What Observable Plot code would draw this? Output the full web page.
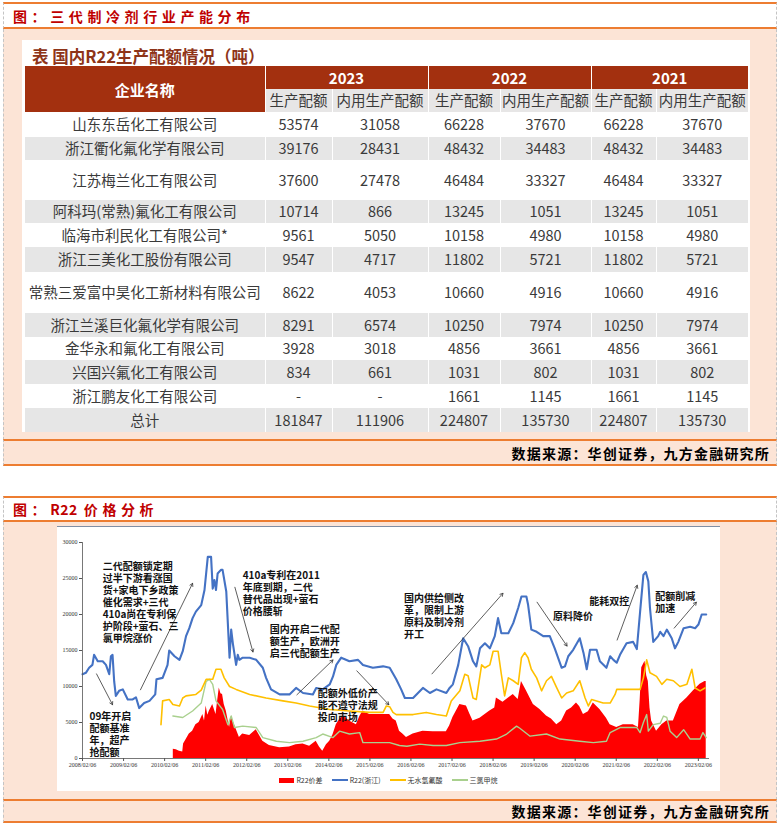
<!DOCTYPE html>
<html><head><meta charset="utf-8">
<script src="https://cdn.jsdelivr.net/npm/d3@7"></script>
<script src="https://cdn.jsdelivr.net/npm/@observablehq/plot@0.6"></script>
<style>
html,body{margin:0;padding:0;background:#fff;}
body{width:780px;height:825px;position:relative;overflow:hidden;font-family:"Noto Sans CJK SC","Noto Sans",sans-serif;}
.abs{position:absolute;box-sizing:border-box;}
.tbar{left:3px;width:774px;background:#fff;border-top:2px solid #ED7D31;border-bottom:2px solid #ED7D31;border-left:1px dashed #c4c4c4;border-right:1px dashed #c4c4c4;
  color:#C00000;font-weight:bold;font-size:14px;letter-spacing:4.6px;padding-left:9px;display:flex;align-items:center;white-space:pre;}
.body{left:3px;width:774px;background:#FCE4D6;border-left:1px dashed #c4c4c4;border-right:1px dashed #c4c4c4;}
.foot{left:3px;width:774px;background:#FCE4D6;border-top:2px solid #ED7D31;border-bottom:2px solid #ED7D31;border-left:1px dashed #c4c4c4;border-right:1px dashed #c4c4c4;
  font-weight:bold;font-size:14px;letter-spacing:1.2px;color:#000;display:flex;align-items:center;justify-content:flex-end;padding-right:6px;}
table{border-collapse:collapse;table-layout:fixed;font-size:14.5px;color:#3a3a3a;}
td{padding:0;text-align:center;vertical-align:middle;white-space:nowrap;overflow:visible;line-height:1;}
td+td{border-left:1px solid #fff;}
.hd td{background:#A3300F;color:#fff;font-weight:bold;font-size:15px;}
.sub td{background:#E7E6E6;color:#3a3a3a;font-size:14.5px;}
.sub td:first-child{border-left:1px solid #fff;}
.legend{display:flex;justify-content:center;align-items:center;gap:9px;font-size:7px;color:#333;font-family:"Noto Sans CJK SC",serif;}
.legend span.item{display:flex;align-items:center;gap:2px;}
</style>
</head><body>
<div class="abs tbar" style="top:2px;height:27px;">图：三代制冷剂行业产能分布</div>
<div class="abs body" style="top:29px;height:411px;"></div>
<div class="abs" style="left:22px;top:40px;width:728px;height:392px;background:#fff;"></div>
<div class="abs" id="ttl" style="left:32px;top:44px;font-size:16.5px;font-weight:bold;color:#8E3418;white-space:nowrap;">表 国内R22生产配额情况（吨）</div>
<div class="abs" id="tbl" style="left:25px;top:66px;"></div>
<div class="abs foot" style="top:439px;height:27px;">数据来源：华创证券，九方金融研究所</div>

<div class="abs tbar" style="top:496px;height:26px;">图：<span style="letter-spacing:0.5px;margin-right:6px;">R22</span>价格分析</div>
<div class="abs body" style="top:522px;height:278px;"></div>
<div class="abs" style="left:57px;top:526px;width:663px;height:265px;background:#fff;border-top:1.5px solid #7F8FA6;">
  <div id="chart" style="height:245px;margin-top:-1px;"></div>
  <div class="legend" id="legend" style="height:18px;"></div>
</div>
<div class="abs foot" style="top:799px;height:24px;">数据来源：华创证券，九方金融研究所</div>

<script>
// ---------------- table data ----------------
const companies = ["山东东岳化工有限公司","浙江衢化氟化学有限公司","江苏梅兰化工有限公司","阿科玛(常熟)氟化工有限公司","临海市利民化工有限公司*","浙江三美化工股份有限公司","常熟三爱富中昊化工新材料有限公司","浙江兰溪巨化氟化学有限公司","金华永和氟化工有限公司","兴国兴氟化工有限公司","浙江鹏友化工有限公司","总计"];
const quota2023    = [53574,39176,37600,10714,9561,9547,8622,8291,3928,834,null,181847];
const domestic2023 = [31058,28431,27478,866,5050,4717,4053,6574,3018,661,null,111906];
const quota2022    = [66228,48432,46484,13245,10158,11802,10660,10250,4856,1031,1661,224807];
const domestic2022 = [37670,34483,33327,1051,4980,5721,4916,7974,3661,802,1145,135730];
const quota2021    = [66228,48432,46484,13245,10158,11802,10660,10250,4856,1031,1661,224807];
const domestic2021 = [37670,34483,33327,1051,4980,5721,4916,7974,3661,802,1145,135730];
const tableYears = ["2023","2022","2021"];
const subHeaders = ["生产配额","内用生产配额"];
const nameHeader = "企业名称";

// ---------------- chart data (decimal year, value) ----------------
const r22Zhejiang = [[2008.10,11700],[2008.18,11900],[2008.26,12600],[2008.34,13000],[2008.38,14400],[2008.47,13500],[2008.59,13500],[2008.67,13000],[2008.75,11700],[2008.79,14200],[2008.83,14400],[2008.87,10700],[2008.91,8700],[2008.99,9400],[2009.08,9600],[2009.20,8200],[2009.32,8200],[2009.40,8500],[2009.48,7000],[2009.60,7700],[2009.73,8000],[2009.87,8900],[2009.90,11000],[2010.05,11200],[2010.17,13000],[2010.21,15000],[2010.34,14200],[2010.46,13700],[2010.54,14900],[2010.62,17000],[2010.70,18100],[2010.78,19500],[2010.86,20400],[2010.99,21300],[2011.07,23400],[2011.15,28000],[2011.23,28000],[2011.27,23600],[2011.31,24800],[2011.35,23400],[2011.39,25700],[2011.47,26200],[2011.51,26200],[2011.60,23200],[2011.64,18600],[2011.68,14000],[2011.72,17900],[2011.76,16000],[2011.84,13000],[2011.88,14400],[2011.92,13700],[2012.00,14000],[2012.17,14000],[2012.33,13700],[2012.49,12600],[2012.57,11200],[2012.69,9600],[2012.90,8900],[2013.14,8900],[2013.30,9800],[2013.47,9100],[2013.71,8900],[2013.79,9800],[2013.95,9600],[2014.12,10300],[2014.20,11400],[2014.28,13000],[2014.40,14000],[2014.60,13500],[2014.81,13700],[2014.93,13000],[2015.17,12600],[2015.42,12800],[2015.58,12600],[2015.74,11000],[2015.86,9600],[2015.95,8400],[2016.15,8400],[2016.39,9800],[2016.56,9100],[2016.72,9600],[2016.96,9100],[2017.04,9800],[2017.12,10300],[2017.25,13000],[2017.37,16700],[2017.49,15600],[2017.61,13500],[2017.69,12800],[2017.78,15300],[2017.90,16000],[2018.02,15300],[2018.14,17000],[2018.22,19500],[2018.30,17400],[2018.47,17400],[2018.59,18800],[2018.71,20900],[2018.79,22500],[2018.91,22500],[2018.95,21400],[2019.03,17900],[2019.16,17600],[2019.32,17000],[2019.48,17000],[2019.60,15300],[2019.77,12600],[2019.85,12800],[2019.93,14200],[2020.05,15100],[2020.21,16700],[2020.30,14700],[2020.38,12400],[2020.46,15100],[2020.62,15100],[2020.70,13500],[2020.86,12600],[2020.95,14200],[2021.03,13700],[2021.11,13300],[2021.19,14400],[2021.35,16000],[2021.51,16200],[2021.60,15200],[2021.68,20400],[2021.76,25500],[2021.82,25900],[2021.88,24600],[2021.92,20900],[2022.00,16200],[2022.12,17000],[2022.17,17600],[2022.25,17000],[2022.33,17900],[2022.45,16700],[2022.53,15300],[2022.61,16200],[2022.74,18100],[2022.90,18300],[2023.02,18100],[2023.10,18600],[2023.18,20000],[2023.29,20000]];

const hydrofluoricAcid = [[2010.01,4700],[2010.05,8000],[2010.21,8200],[2010.30,7500],[2010.46,7300],[2010.54,8400],[2010.62,8700],[2010.86,8900],[2010.99,9500],[2011.11,11000],[2011.27,11000],[2011.35,12400],[2011.47,12400],[2011.55,11200],[2011.68,10000],[2011.84,9600],[2012.17,8900],[2012.57,8400],[2012.98,8000],[2013.30,7700],[2013.63,7300],[2014.12,6800],[2014.60,6600],[2015.09,6400],[2015.42,6400],[2015.50,7300],[2015.58,7200],[2015.66,6400],[2015.74,6100],[2016.15,6100],[2016.47,6400],[2016.72,6100],[2016.96,5900],[2017.08,8000],[2017.29,9400],[2017.41,11700],[2017.49,11500],[2017.61,8400],[2017.69,8200],[2017.82,13000],[2017.90,12600],[2018.02,13000],[2018.10,14900],[2018.22,14900],[2018.30,11700],[2018.38,8700],[2018.47,11200],[2018.59,10800],[2018.71,10300],[2018.79,14000],[2018.87,14700],[2018.95,14000],[2019.03,12400],[2019.16,11200],[2019.28,9400],[2019.40,10800],[2019.52,11400],[2019.65,9800],[2019.77,8400],[2019.89,9100],[2020.05,9400],[2020.21,10800],[2020.34,8400],[2020.42,7300],[2020.50,8200],[2020.62,8000],[2020.78,7700],[2020.95,7700],[2021.07,8900],[2021.11,9600],[2021.35,9600],[2021.68,9600],[2021.76,11200],[2021.84,13700],[2021.92,11900],[2022.08,11400],[2022.21,10300],[2022.33,11000],[2022.49,10800],[2022.65,10000],[2022.82,10300],[2022.94,12400],[2023.02,9800],[2023.14,9400],[2023.26,9800]];

const chloroform = [[2010.30,5900],[2010.54,5700],[2010.78,6600],[2010.99,7700],[2011.11,10700],[2011.19,11000],[2011.27,10300],[2011.35,8000],[2011.51,6800],[2011.64,4700],[2011.72,5900],[2011.80,4300],[2012.00,4500],[2012.33,4300],[2012.49,2900],[2012.82,2400],[2013.14,2200],[2013.47,2400],[2013.79,2900],[2013.95,3400],[2014.20,2900],[2014.36,3800],[2014.60,3400],[2014.85,3600],[2014.93,2200],[2015.25,2200],[2015.58,2200],[2015.82,1800],[2016.00,1700],[2016.31,2000],[2016.64,1800],[2016.96,1800],[2017.29,2200],[2017.78,2400],[2018.18,2700],[2018.43,3400],[2018.67,4500],[2018.75,4200],[2019.00,3100],[2019.40,3400],[2019.73,2700],[2020.21,2400],[2020.54,2200],[2020.86,2400],[2020.95,3600],[2021.19,4300],[2021.60,4300],[2021.68,3600],[2021.76,5000],[2021.84,6100],[2021.88,3800],[2022.00,4700],[2022.17,4900],[2022.25,5900],[2022.33,5700],[2022.41,3800],[2022.57,2900],[2022.74,4000],[2022.90,2700],[2023.14,2700],[2023.21,3600],[2023.29,2900]];

const r22Spread = [[2010.31,1300],[2010.38,1200],[2010.46,1000],[2010.54,900],[2010.56,2000],[2010.62,2600],[2010.70,3400],[2010.78,3800],[2010.86,4700],[2010.94,5000],[2011.03,6100],[2011.07,5200],[2011.11,7300],[2011.15,6000],[2011.19,6600],[2011.27,7500],[2011.35,6100],[2011.39,8000],[2011.43,9800],[2011.47,9000],[2011.51,8900],[2011.55,7500],[2011.60,6600],[2011.68,4300],[2011.72,5800],[2011.80,4700],[2011.88,3500],[2011.92,2900],[2012.00,3400],[2012.17,3200],[2012.33,4000],[2012.41,3200],[2012.49,2400],[2012.65,1800],[2012.90,1500],[2013.14,1600],[2013.30,1900],[2013.47,2000],[2013.63,1700],[2013.79,2400],[2013.87,1600],[2013.95,1000],[2014.04,1900],[2014.12,2400],[2014.20,3300],[2014.28,4700],[2014.36,5400],[2014.44,5900],[2014.52,5600],[2014.60,5200],[2014.77,4700],[2014.85,5800],[2014.93,6600],[2015.09,6100],[2015.34,6100],[2015.58,6100],[2015.66,5500],[2015.74,5200],[2015.82,3800],[2015.90,3400],[2015.99,2900],[2016.15,3400],[2016.39,3800],[2016.64,3700],[2016.96,3700],[2017.04,4500],[2017.12,5700],[2017.29,7500],[2017.45,7300],[2017.53,6200],[2017.61,5200],[2017.78,5600],[2018.02,6600],[2018.14,7000],[2018.18,8400],[2018.34,7800],[2018.59,8900],[2018.71,8200],[2018.79,10700],[2018.91,9400],[2019.08,7500],[2019.24,6800],[2019.40,5900],[2019.52,5500],[2019.65,4700],[2019.77,5200],[2019.89,6600],[2020.01,7000],[2020.13,7700],[2020.21,7200],[2020.30,6100],[2020.42,6500],[2020.54,7700],[2020.70,6800],[2020.86,5600],[2020.95,4700],[2021.11,4300],[2021.27,4700],[2021.51,4700],[2021.64,4300],[2021.68,8000],[2021.72,12600],[2021.80,13500],[2021.84,11500],[2021.88,10700],[2021.92,7000],[2021.96,5200],[2022.08,3800],[2022.21,4700],[2022.33,5200],[2022.49,5200],[2022.65,7500],[2022.82,8400],[2022.98,9400],[2023.14,10300],[2023.26,10700],[2023.29,10700]];

const seriesNames = ["R22价差","R22(浙江)","无水氢氟酸","三氯甲烷"];
const seriesColors = ["#FF0000","#4472C4","#FFC000","#A9D08E"];

const xTickLabels = ["2008/02/06","2009/02/06","2010/02/06","2011/02/06","2012/02/06","2013/02/06","2014/02/06","2015/02/06","2016/02/06","2017/02/06","2018/02/06","2019/02/06","2020/02/06","2021/02/06","2022/02/06","2023/02/06"];
const yTicks = [0,5000,10000,15000,20000,25000,30000];

const notes = [
  {x:2008.59, y:27300, text:"二代配额锁定期\n过半下游看涨国\n货+家电下乡政策\n催化需求+三代\n410a尚在专利保\n护阶段+萤石、三\n氯甲烷涨价"},
  {x:2008.27, y:6540,  text:"09年开启\n配额基准\n年，超产\n抢配额"},
  {x:2012.00, y:26130, text:"410a专利在2011\n年底到期，二代\n替代品出现+萤石\n价格腰斩"},
  {x:2012.66, y:18620, text:"国内开启二代配\n额生产，欧洲开\n启三代配额生产"},
  {x:2013.83, y:9680,  text:"配额外低价产\n能不遵守法规\n投向市场"},
  {x:2015.93, y:22910, text:"国内供给侧改\n革，限制上游\n原料及制冷剂\n开工"},
  {x:2019.56, y:20370, text:"原料降价"},
  {x:2020.44, y:22440, text:"能耗双控"},
  {x:2022.05, y:23230, text:"配额削减\n加速"}
];
const arrows = [
  {x1:2009.51, y1:9540,  x2:2010.78, y2:24330},
  {x1:2008.44, y1:11750, x2:2008.83, y2:7470},
  {x1:2011.81, y1:23780, x2:2012.25, y2:14790},
  {x1:2013.32, y1:8850,  x2:2014.20, y2:13690},
  {x1:2014.78, y1:12170, x2:2015.56, y2:7470},
  {x1:2016.61, y1:11750, x2:2018.34, y2:22950},
  {x1:2019.17, y1:21710, x2:2019.90, y2:15620},
  {x1:2021.12, y1:16450, x2:2021.61, y2:24060},
  {x1:2022.51, y1:18110, x2:2023.05, y2:21710}
];

// ---------------- build table ----------------
(function(){
  const widths = [240,67,96,72,91,65,92];
  const rowH = [25,23,40,23,24,25,41,24,23,24,24,24];
  const cols = [quota2023,domestic2023,quota2022,domestic2022,quota2021,domestic2021];
  let h = '<table><colgroup>' + widths.map(w=>`<col style="width:${w}px">`).join('') + '</colgroup>';
  h += `<tr class="hd" style="height:23px"><td rowspan="2">${nameHeader}</td>` + tableYears.map(y=>`<td colspan="2">${y}</td>`).join('') + '</tr>';
  h += '<tr class="sub" style="height:23px">' + tableYears.map(()=>subHeaders.map(s=>`<td>${s}</td>`).join('')).join('') + '</tr>';
  companies.forEach((c,i)=>{
    const bg = i%2===1 ? '#E6E6E6' : '#fff';
    h += `<tr style="height:${rowH[i]}px;background:${bg}"><td>${c}</td>` + cols.map(col=>`<td>${col[i]==null?'-':col[i]}</td>`).join('') + '</tr>';
  });
  h += '</table>';
  document.getElementById('tbl').innerHTML = h;
})();

// ---------------- chart ----------------
const pts = arr => arr.map(([x,y])=>({x,y}));
const tickParse = s => { const [yy,mm,dd] = s.split('/').map(Number); return yy + (Date.UTC(yy,mm-1,dd)-Date.UTC(yy,0,1))/(Date.UTC(yy+1,0,1)-Date.UTC(yy,0,1)); };
const xTickPos = xTickLabels.map(tickParse);
const labelAt = new Map(xTickPos.map((p,i)=>[p, xTickLabels[i]]));

const chart = Plot.plot({
  width: 663, height: 245,
  marginLeft: 25, marginRight: 11, marginTop: 16, marginBottom: 13,
  x: {type: "linear", domain: [xTickPos[0], 2023.37]},
  y: {domain: [0, 30000]},
  style: {background: "transparent", fontFamily: "'Liberation Serif', 'Times New Roman', serif", fontSize: "6px", color: "#333", overflow: "visible"},
  marks: [
    Plot.areaY(pts(r22Spread), {x: "x", y: "y", fill: seriesColors[0]}),
    Plot.lineY(pts(chloroform), {x: "x", y: "y", stroke: seriesColors[3], strokeWidth: 1.4}),
    Plot.lineY(pts(hydrofluoricAcid), {x: "x", y: "y", stroke: seriesColors[2], strokeWidth: 1.6}),
    Plot.lineY(pts(r22Zhejiang), {x: "x", y: "y", stroke: seriesColors[1], strokeWidth: 2.1}),
    Plot.ruleY([0], {stroke: "#555", strokeWidth: 0.8}),
    Plot.ruleX([xTickPos[0]], {stroke: "#555", strokeWidth: 0.8}),
    Plot.axisY(yTicks, {tickSize: 3, tickPadding: 2, tickFormat: d => String(d), stroke: "#555"}),
    Plot.axisX(xTickPos, {tickSize: 3, tickPadding: 1, tickFormat: d => labelAt.get(d), stroke: "#555"}),
    Plot.arrow(arrows, {x1: "x1", y1: "y1", x2: "x2", y2: "y2", stroke: "#333", strokeWidth: 0.8, headLength: 6}),
    Plot.text(notes, {x: "x", y: "y", text: "text", textAnchor: "start", lineAnchor: "top", fontSize: 10, fontWeight: "bold", fill: "#111", lineHeight: 1.2, fontFamily: "'Noto Sans CJK SC', sans-serif"})
  ]
});
document.getElementById('chart').appendChild(chart);

// ---------------- legend ----------------
(function(){
  const lg = document.getElementById('legend');
  seriesNames.forEach((n,i)=>{
    const sw = i===0
      ? `<span style="display:inline-block;width:15px;height:5px;background:${seriesColors[i]}"></span>`
      : `<span style="display:inline-block;width:16px;height:2px;background:${seriesColors[i]}"></span>`;
    lg.insertAdjacentHTML('beforeend', `<span class="item">${sw}<span>${n}</span></span>`);
  });
})();
</script>
</body></html>
